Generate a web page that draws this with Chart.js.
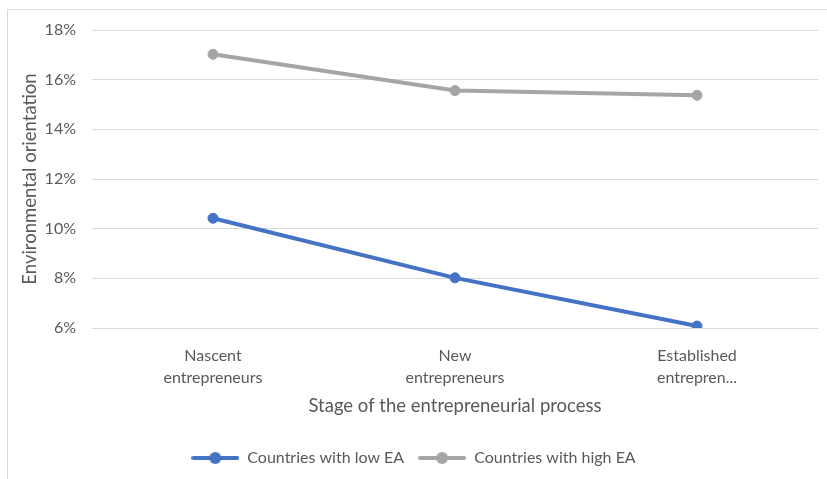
<!DOCTYPE html>
<html>
<head>
<meta charset="utf-8">
<script src="https://cdn.jsdelivr.net/npm/chart.js@4/dist/chart.umd.min.js"></script>
<style>
  html, body { margin: 0; padding: 0; background: #fff; overflow: hidden; }
  #frame { position: absolute; left: 7px; top: 9px; width: 900px; height: 600px; border: 1px solid #d9d9d9; }
  #wrap { position: absolute; left: 0; top: 0; width: 827px; height: 479px; }
</style>
</head>
<body>
<div id="frame"></div>
<div id="wrap"><canvas id="chart"></canvas></div>
<script>
// Chart data
const categories = [
  ["Nascent", "entrepreneurs"],
  ["New", "entrepreneurs"],
  ["Established", "entrepren..."]
]
const lowEA = [10.42, 8.02, 6.08]
const highEA = [17.02, 15.56, 15.37]
const yTicks = [6, 8, 10, 12, 14, 16, 18]

const BLUE = '#4472C4'
const GRAY = '#A5A5A5'
const TEXT = '#595959'
const FONT = 'Lato, "Open Sans", sans-serif'

// Legend marker: short line with a dot in the middle
function legendMarker(color) {
  const c = document.createElement('canvas')
  c.width = 48
  c.height = 14
  const ctx = c.getContext('2d')
  ctx.strokeStyle = color
  ctx.lineWidth = 4
  ctx.lineCap = 'round'
  ctx.beginPath()
  ctx.moveTo(2, 7)
  ctx.lineTo(46, 7)
  ctx.stroke()
  ctx.fillStyle = color
  ctx.beginPath()
  ctx.arc(24, 7, 6, 0, Math.PI * 2)
  ctx.fill()
  return c
}

const markers = [legendMarker(BLUE), legendMarker(GRAY)]

new Chart(document.getElementById('chart'), {
  type: 'line',
  data: {
    labels: categories,
    datasets: [
      {
        label: 'Countries with low EA',
        data: lowEA,
        borderColor: BLUE,
        backgroundColor: BLUE,
        borderWidth: 4,
        pointRadius: 5,
        pointBorderWidth: 1,
        tension: 0
      },
      {
        label: 'Countries with high EA',
        data: highEA,
        borderColor: GRAY,
        backgroundColor: GRAY,
        borderWidth: 4,
        pointRadius: 5,
        pointBorderWidth: 1,
        tension: 0
      }
    ]
  },
  options: {
    responsive: true,
    maintainAspectRatio: false,
    animation: false,
    layout: { padding: { left: 9, right: 9, top: 30, bottom: 3 } },
    plugins: {
      tooltip: { enabled: false },
      legend: {
        position: 'bottom',
        labels: {
          usePointStyle: true,
          pointStyleWidth: 48,
          padding: 14,
          color: TEXT,
          font: { family: FONT, size: 16 },
          generateLabels(chart) {
            const items = Chart.defaults.plugins.legend.labels.generateLabels(chart)
            items.forEach((it, i) => { it.pointStyle = markers[i] })
            return items
          }
        }
      }
    },
    scales: {
      x: {
        offset: true,
        grid: { display: false },
        border: { display: false },
        ticks: {
          color: TEXT,
          font: { family: FONT, size: 16, lineHeight: 1.35 },
          padding: 9,
          maxRotation: 0,
          autoSkip: false
        },
        title: {
          display: true,
          text: 'Stage of the entrepreneurial process',
          color: TEXT,
          font: { family: FONT, size: 18.5 },
          padding: { top: 0, bottom: 19 }
        },
        afterFit(scale) { scale.height = 108 }
      },
      y: {
        min: 6,
        max: 18,
        afterBuildTicks(scale) { scale.ticks = yTicks.map(v => ({ value: v })) },
        grid: { color: '#d9d9d9', lineWidth: 1, drawTicks: false },
        border: { display: false },
        ticks: {
          color: TEXT,
          font: { family: FONT, size: 16 },
          padding: 16,
          callback: v => v + '%'
        },
        title: {
          display: true,
          text: 'Environmental orientation',
          color: TEXT,
          font: { family: FONT, size: 18.5 },
          padding: { top: 10, bottom: 0 }
        },
        afterFit(scale) { scale.width = 83 }
      }
    }
  }
})
</script>
</body>
</html>
